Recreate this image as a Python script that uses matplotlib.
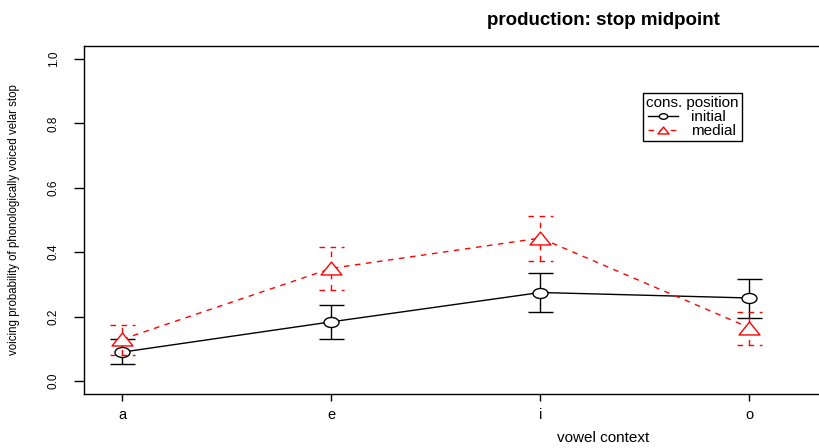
import matplotlib
matplotlib.use("Agg")
import matplotlib.pyplot as plt
import numpy as np
from matplotlib.path import Path
from matplotlib.lines import Line2D

plt.rcParams["font.family"] = ["Liberation Sans", "DejaVu Sans"]

vowels = ["a", "e", "i", "o"]
initial_mean = [0.090, 0.184, 0.275, 0.258]
initial_lo = [0.052, 0.131, 0.214, 0.197]
initial_hi = [0.130, 0.237, 0.337, 0.316]
medial_mean = [0.130, 0.350, 0.444, 0.166]
medial_lo = [0.081, 0.283, 0.373, 0.112]
medial_hi = [0.174, 0.417, 0.512, 0.215]

# R glyphs look horizontally stretched in the reference
circ = Path.unit_circle()
ellipse = Path(circ.vertices * [1.5, 1.0], circ.codes)
tri = Path([(-1, -0.62), (1, -0.62), (0, 0.62), (-1, -0.62)],
           [Path.MOVETO, Path.LINETO, Path.LINETO, Path.CLOSEPOLY])
DASH = (0, (4, 4))
CAP = 0.06

fig = plt.figure(figsize=(8.19, 4.48), dpi=100)
ax = fig.add_axes([84/819, 1-394/448, 1038/819, 348/448])
x = np.arange(1, len(vowels)+1)

series = [
    (initial_mean, initial_lo, initial_hi, "black", "-", ellipse, 10.8, 3),
    (medial_mean, medial_lo, medial_hi, "red", DASH, tri, 15, 4),
]
for mean, lo, hi, col, ls, mk, ms, z in series:
    ax.plot(x, mean, color=col, lw=1.0, ls=ls, zorder=z)
    ax.vlines(x, lo, hi, color=col, lw=1.0, linestyles=ls, zorder=z)
    ax.hlines(lo, x-CAP, x+CAP, color=col, lw=1.0, linestyles=ls, zorder=z)
    ax.hlines(hi, x-CAP, x+CAP, color=col, lw=1.0, linestyles=ls, zorder=z)
    ax.plot(x, mean, ls="none", marker=mk, ms=ms, mfc="white", mec=col,
            mew=1.0, zorder=z+0.5)

ax.set_xlim(0.816, 5.784)
ax.set_ylim(-0.04, 1.04)
ax.set_xticks(x)
ax.set_xticklabels(vowels, fontsize=10.5)
ax.set_yticks([0, 0.2, 0.4, 0.6, 0.8, 1.0])
ax.set_yticklabels(["0.0", "0.2", "0.4", "0.6", "0.8", "1.0"], fontsize=8.5,
                   rotation=90, va="center")
ax.tick_params(axis="x", length=5, width=1, pad=5)
ax.tick_params(axis="y", length=7.5, width=1, pad=10)
for s in ax.spines.values():
    s.set_linewidth(1.0)

ax.set_title("production: stop midpoint", fontsize=13.5, fontweight="bold", pad=15)
ax.set_xlabel("vowel context", fontsize=11)
ax.xaxis.set_label_coords(0.5, -0.107)
ax.set_ylabel("voicing probability of phonologically voiced velar stop", fontsize=8.3)
ax.yaxis.set_label_coords(-64/1038, 0.5)

handles = [
    Line2D([], [], color="black", lw=1.0, marker=ellipse, ms=6, mfc="white", mec="black"),
    Line2D([], [], color="red", lw=1.0, ls=DASH, marker=tri, ms=8, mfc="white", mec="red"),
]
leg = ax.legend(handles, ["initial", "medial"], title="cons. position", loc="upper left",
                bbox_to_anchor=(643/819, 1-93/448), bbox_transform=fig.transFigure,
                fontsize=11, title_fontsize=11, fancybox=False, edgecolor="black",
                framealpha=1, borderpad=0.2, labelspacing=0.0, handlelength=1.9,
                handletextpad=0.9, borderaxespad=0)
leg.get_frame().set_linewidth(1.0)

fig.savefig("out.png", dpi=100)
